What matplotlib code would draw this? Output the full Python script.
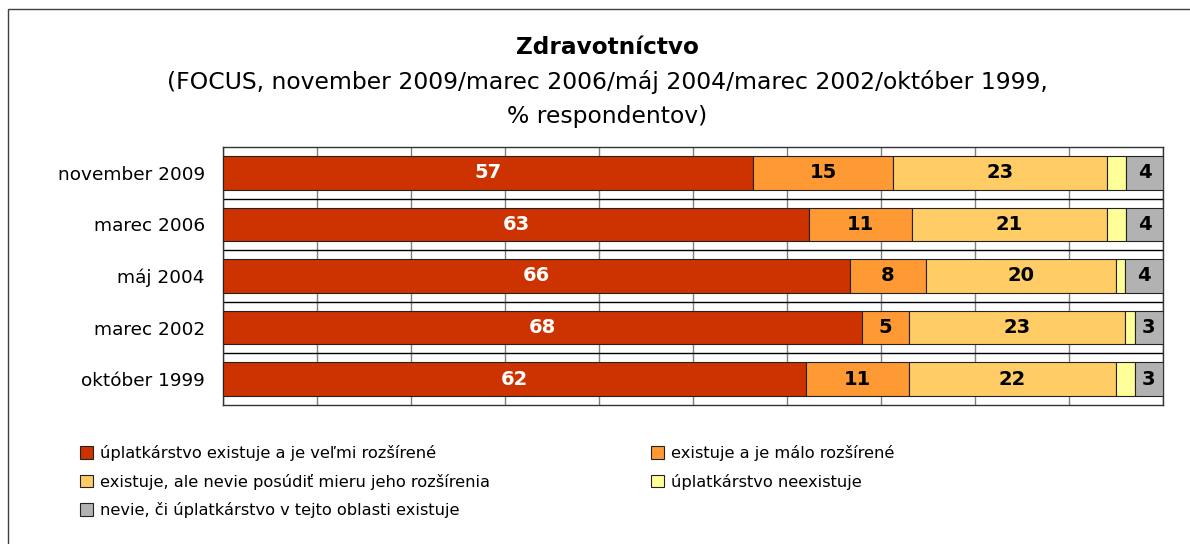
import matplotlib
matplotlib.use("Agg")
import matplotlib.pyplot as plt
import numpy as np
from matplotlib.patches import Rectangle

plt.rcParams['font.family'] = ['DejaVu Sans']

# data
periods = ['november 2009', 'marec 2006', 'máj 2004', 'marec 2002', 'október 1999']
velmi = [57, 63, 66, 68, 62]
malo = [15, 11, 8, 5, 11]
nevie_miera = [23, 21, 20, 23, 22]
neexistuje = [2, 2, 1, 1, 2]
nevie = [4, 4, 4, 3, 3]

series_names = ['úplatkárstvo existuje a je veľmi rozšírené',
                'existuje a je málo rozšírené',
                'existuje, ale nevie posúdiť mieru jeho rozšírenia',
                'úplatkárstvo neexistuje',
                'nevie, či úplatkárstvo v tejto oblasti existuje']
colors = ['#CC3300', '#FF9933', '#FFCC66', '#FFFF99', '#B2B2B2']
text_colors = ['white', 'black', 'black', None, 'black']

series = np.array([velmi, malo, nevie_miera, neexistuje, nevie], dtype=float)
# 100% stacked - normalise each row
shares = series / series.sum(axis=0) * 100

fig = plt.figure(figsize=(11.9, 5.44), dpi=100)
ax = fig.add_axes([223/1190, 1-405/544, (1163-223)/1190, (405-147)/544])

y = np.arange(len(periods))
left = np.zeros(len(periods))
handles = []
for i in range(len(series)):
    bars = ax.barh(y, shares[i], left=left, height=0.65, color=colors[i],
                   edgecolor='#222222', linewidth=0.8, label=series_names[i], zorder=3)
    handles.append(bars)
    if text_colors[i] is not None:
        for j in range(len(periods)):
            ax.text(left[j] + shares[i][j] / 2, y[j], '%d' % series[i][j],
                    ha='center', va='center', fontsize=14, fontweight='bold',
                    color=text_colors[i], zorder=4)
    left += shares[i]

ax.set_xlim(0, 100)
ax.set_ylim(len(periods) - 0.5, -0.5)
ax.set_yticks(y)
ax.set_yticklabels(periods, fontsize=13.3)
ax.tick_params(axis='y', length=0, pad=13)
ax.set_xticks(np.arange(0, 101, 10))
ax.set_xticklabels([])
ax.tick_params(axis='x', length=0)
ax.set_yticks(np.arange(0.5, len(periods) - 1, 1), minor=True)
ax.tick_params(axis='y', which='minor', length=0)
ax.grid(True, axis='x', color='#808080', linewidth=1, zorder=1)
ax.grid(True, axis='y', which='minor', color='black', linewidth=1, zorder=1)
ax.set_axisbelow(True)
for s in ax.spines.values():
    s.set_color('#333333')
    s.set_linewidth(1)

fig.text(607/1190, 1-47/544, 'Zdravotníctvo', ha='center', va='center',
         fontsize=16.7, fontweight='bold')
fig.text(607/1190, 1-82/544, '(FOCUS, november 2009/marec 2006/máj 2004/marec 2002/október 1999,',
         ha='center', va='center', fontsize=16.9)
fig.text(607/1190, 1-117/544, '% respondentov)', ha='center', va='center', fontsize=16.9)

# legend laid out row by row like the original
leg_kw = dict(loc='upper left', frameon=False, fontsize=11.7, borderpad=0, borderaxespad=0,
              handlelength=0.8, handleheight=0.8, handletextpad=0.4, labelspacing=0.78)
leg1 = fig.legend([handles[0], handles[2], handles[4]],
                  [series_names[0], series_names[2], series_names[4]],
                  bbox_to_anchor=(80/1190, 1-445/544), **leg_kw)
leg2 = fig.legend([handles[1], handles[3]], [series_names[1], series_names[3]],
                  bbox_to_anchor=(651/1190, 1-445/544), **leg_kw)

# outer chart frame
fig.patches.append(Rectangle((8/1190, -0.1), 1.2, 1.1 - 9/544, transform=fig.transFigure,
                             fill=False, edgecolor='#404040', linewidth=1))

fig.savefig('out.png', dpi=100)
